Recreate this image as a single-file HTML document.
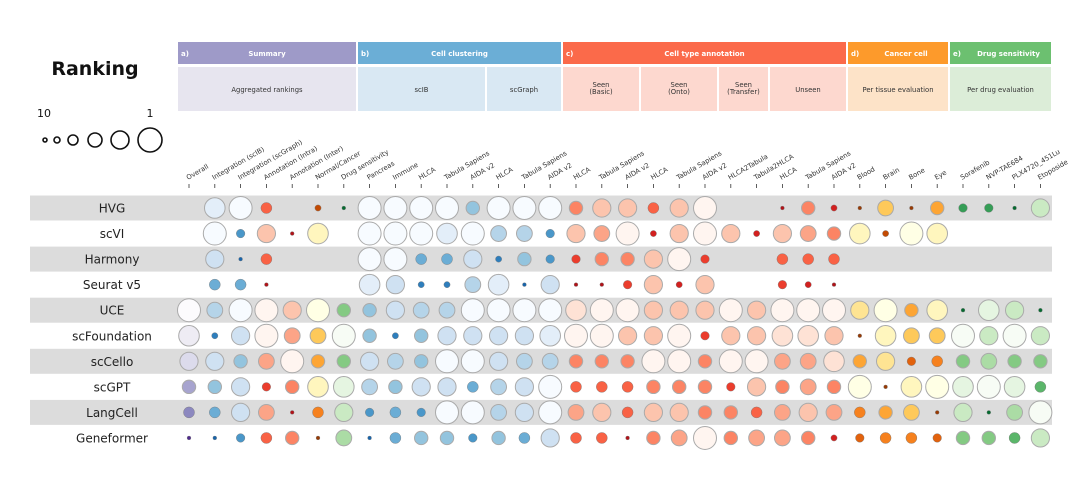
<!DOCTYPE html>
<html><head><meta charset="utf-8"><style>
body{margin:0;background:#fff;}
svg{display:block;font-family:"DejaVu Sans","Liberation Sans",sans-serif;}
</style></head><body>
<svg id="chart" width="1080" height="483" viewBox="0 0 1080 483">
<g id="hdr"></g><g id="bands"></g><g id="labels"></g><g id="marks"></g><g id="legend"></g>
</svg>
<script>
const models = ["HVG","scVI","Harmony","Seurat v5","UCE","scFoundation","scCello","scGPT","LangCell","Geneformer"];
const columns = ["Overall","Integration (scIB)","Integration (scGraph)","Annotation (Intra)","Annotation (Inter)","Normal/Cancer","Drug sensitivity",
 "Pancreas","Immune","HLCA","Tabula Sapiens","AIDA v2","HLCA","Tabula Sapiens","AIDA v2",
 "HLCA","Tabula Sapiens","AIDA v2","HLCA","Tabula Sapiens","AIDA v2","HLCA2Tabula","Tabula2HLCA","HLCA","Tabula Sapiens","AIDA v2",
 "Blood","Brain","Bone","Eye","Sorafenib","NVP-TAE684","PLX4720_451Lu","Etoposide"];
const columnPalette = ["P","B","B","R","R","O","G","B","B","B","B","B","B","B","B","R","R","R","R","R","R","R","R","R","R","R","O","O","O","O","G","G","G","G"];
const N = null;
const rankHVG        = [N,2,1,6,N,8,9, 1,1,1,1,5,1,1,1, 5,3,3,6,3,1,N,N,9,5,8, 9,4,9,5, 7,7,9,3];
const rankScVI       = [N,1,7,3,9,2,N, 1,1,1,2,1,4,4,7, 3,4,1,8,3,1,3,8,3,4,5, 2,8,1,2, N,N,N,N];
const rankHarmony    = [N,3,9,6,N,N,N, 1,1,6,6,3,8,5,7, 7,5,5,3,1,7,N,N,6,6,6, N,N,N,N, N,N,N,N];
const rankSeurat     = [N,6,6,9,N,N,N, 2,3,8,8,4,2,9,3, 9,9,7,3,8,3,N,N,7,8,9, N,N,N,N, N,N,N,N];
const rankUCE        = [1,4,1,1,3,1,5, 5,3,4,4,1,1,1,1, 2,1,1,3,3,3,1,3,1,1,1, 3,1,5,2, 9,2,3,9];
const rankScFound    = [2,8,3,1,4,4,1, 5,8,5,3,3,3,3,2, 1,1,3,3,1,7,3,3,2,2,3, 9,2,4,4, 1,3,1,3];
const rankScCello    = [3,3,5,4,1,5,5, 3,4,5,1,1,3,4,4, 5,5,5,1,1,5,1,1,4,4,2, 5,3,7,6, 5,4,5,5];
const rankScGPT      = [5,5,3,7,5,2,2, 4,5,3,3,6,4,3,1, 6,6,6,5,5,5,7,3,5,4,5, 1,9,2,1, 2,1,2,6];
const rankLangCell   = [6,6,3,4,9,6,3, 7,6,7,1,1,4,3,1, 4,3,6,3,3,5,5,6,4,3,4, 6,5,4,9, 3,9,4,1];
const rankGeneformer = [9,9,7,6,5,9,4, 9,6,5,5,7,5,6,3, 6,6,9,5,4,1,5,4,4,5,8, 7,6,6,7, 5,5,6,3];
const ranks = [rankHVG,rankScVI,rankHarmony,rankSeurat,rankUCE,rankScFound,rankScCello,rankScGPT,rankLangCell,rankGeneformer];

const palettes = {
 B:['#f7fbff','#e3eef9','#cfe1f2','#b5d4e9','#93c4de','#6badd5','#4a97c9','#2e7ebc','#1764ab','#08468b'],
 R:['#fff5f0','#fee2d5','#fcc4ad','#fca487','#fc8464','#f96245','#eb3d2d','#d2201f','#b11218','#860811'],
 O:['#ffffe5','#fff6be','#fee493','#fec95a','#fda534','#f6811e','#e2620d','#c24a03','#983a04','#6d2c05'],
 G:['#f7fcf5','#e5f5e1','#caeac3','#abdca5','#84ca83','#5bb66a','#359d56','#1b8442','#046a2f','#00441b'],
 P:['#fcfbfd','#eeecf4','#dcdbec','#c3c3df','#a7a4cf','#8c88bf','#7666ad','#61459c','#4f2a8e','#3f007d']
};
const NS="http://www.w3.org/2000/svg";
function mk(tag,attrs,parent){const e=document.createElementNS(NS,tag);for(const k in attrs)e.setAttribute(k,attrs[k]);parent.appendChild(e);return e;}
const xCol = i => 189 + i*25.8;
const yRow = j => 208 + j*25.55;
const rRank = r => 11.5 - (r-1)*1.2;

const hdr=document.getElementById('hdr');
const groups=[["a)","Summary",178,356,"#9e9ac8"],["b)","Cell clustering",358,561,"#6baed6"],["c)","Cell type annotation",563,846,"#fb6a4a"],["d)","Cancer cell",848,948,"#fd9a2b"],["e)","Drug sensitivity",950,1051,"#6cc070"]];
groups.forEach(g=>{
 const r=mk('rect',{x:g[2],y:42,width:g[3]-g[2],height:22,fill:g[4]},hdr);
 
 
 const t1=mk('text',{x:g[2]+3,y:56,fill:'#fff','font-size':7,'font-weight':'bold'},hdr);t1.textContent=g[0];
 const cx=(g[2]+g[3])/2+(g[0]==="d)"||g[0]==="e)"?8:0);
 const t2=mk('text',{x:cx,y:56,fill:'#fff','font-size':7,'font-weight':'bold','text-anchor':'middle'},hdr);t2.textContent=g[1];
 
 
});
const subs=[["Aggregated rankings",178,356,"#e7e5ef"],["scIB",358,485,"#d9e8f3"],["scGraph",487,561,"#d9e8f3"],["Seen|(Basic)",563,639,"#fdd8cf"],["Seen|(Onto)",641,717,"#fdd8cf"],["Seen|(Transfer)",719,768,"#fdd8cf"],["Unseen",770,846,"#fdd8cf"],["Per tissue evaluation",848,948,"#fde3c8"],["Per drug evaluation",950,1051,"#dcedd8"]];
subs.forEach(s=>{
 const r=mk('rect',{x:s[1],y:67,width:s[2]-s[1],height:44,fill:s[3]},hdr);
 
 
 const lines=s[0].split('|');const cx=(s[1]+s[2])/2;
 lines.forEach((l,k)=>{const t=mk('text',{x:cx,y:(lines.length>1?87+k*7:92),fill:'#333','font-size':6.8,'text-anchor':'middle'},hdr);t.textContent=l;});
});

const bands=document.getElementById('bands'), labels=document.getElementById('labels');
models.forEach((m,j)=>{
 if(j%2===0){const b=mk('rect',{x:30,y:yRow(j)-12.5,width:1022,height:25,fill:'#dcdcdc'},bands);
  
  }
 const t=mk('text',{x:112,y:yRow(j)+4.5,'font-size':12,fill:'#222','text-anchor':'middle'},labels);t.textContent=m;
 
 
});
columns.forEach((c,i)=>{
 const x=xCol(i);
 mk('line',{x1:x,y1:184,x2:x,y2:188,stroke:'#333','stroke-width':0.8},labels);
 const t=mk('text',{x:x-1,y:180,'font-size':6.8,fill:'#333',transform:`rotate(-30 ${x-1} 180)`},labels);t.textContent=c;
 
 
});
const marks=document.getElementById('marks');
ranks.forEach((row,j)=>{row.forEach((r,i)=>{
 if(r===null)return;
 const c=mk('circle',{cx:xCol(i),cy:yRow(j),r:rRank(r),fill:palettes[columnPalette[i]][r-1],stroke:r<=5?'#aaa':'#777','stroke-width':r<=5?1:0.4},marks);
 
 
});});
const lg=document.getElementById('legend');
const t=mk('text',{x:95,y:75,'font-size':19,'font-weight':'bold','text-anchor':'middle',fill:'#111'},lg);t.textContent='Ranking';


const a=mk('text',{x:44,y:117,'font-size':11,'text-anchor':'middle',fill:'#111'},lg);a.textContent='10';
const b=mk('text',{x:150,y:117,'font-size':11,'text-anchor':'middle',fill:'#111'},lg);b.textContent='1';
[[45,2],[57,3],[73,5],[95,7],[120,9],[150,12]].forEach(p=>{
 const c=mk('circle',{cx:p[0],cy:140,r:p[1],fill:'none',stroke:'#111','stroke-width':1.6},lg);
 
 
});
</script>
</body></html>
